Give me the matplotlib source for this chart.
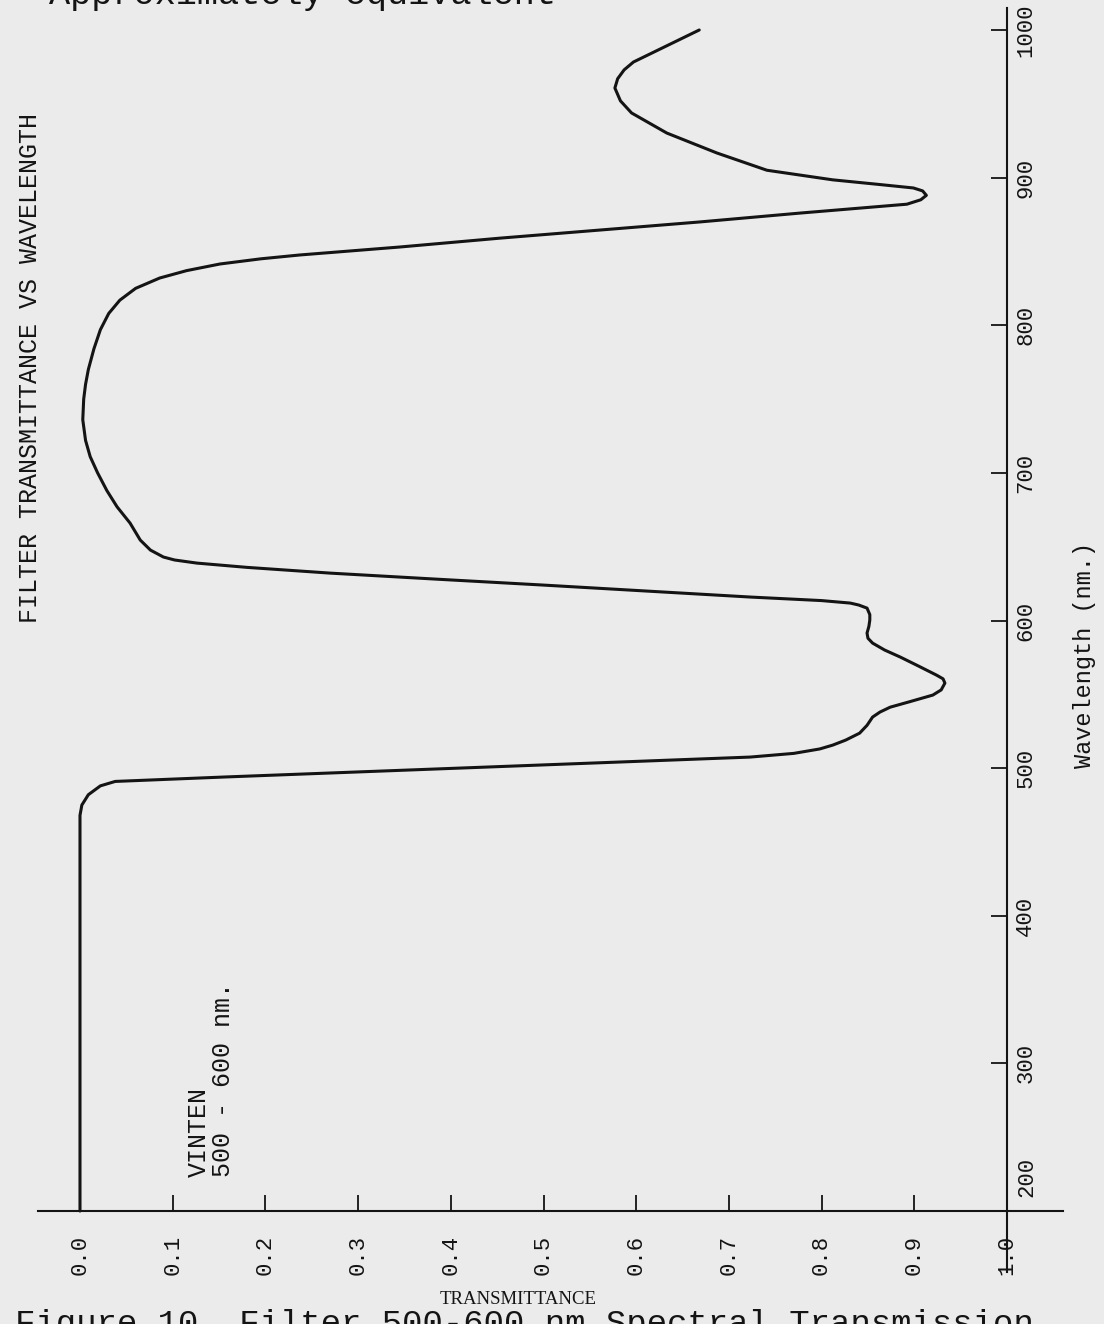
import matplotlib.pyplot as plt

# filter trace: wavelength (nm) against transmittance
wavelength = [200, 468, 475, 482, 488, 491, 494, 497, 500, 503, 505, 507.5, 510, 513, 515.6,
              519, 523.7, 529, 534.6, 538, 541.3, 545, 549.5, 553, 557.6, 560.5, 563, 569,
              575.2, 580, 584.7, 588, 591.5, 596, 600.3, 604, 608.4, 610.5, 611.8, 613.5,
              615.9, 620, 624, 628, 632.1, 636, 638.9, 641, 643, 647.7, 654.5, 666, 677, 688,
              700, 711, 722, 736, 750, 760, 770, 784, 797, 808, 817, 825, 832, 837, 841.5,
              845, 847.6, 853, 859, 864.5, 870, 876, 882, 885, 888, 891, 893, 895.5, 898.5,
              905, 916.7, 930.2, 943.8, 952, 960.7, 967, 973, 978.3, 989, 1000]
transmittance = [0.0, 0.0, 0.002, 0.009, 0.022, 0.038, 0.156, 0.282, 0.408, 0.534, 0.618,
                 0.723, 0.77, 0.798, 0.812, 0.826, 0.841, 0.849, 0.855, 0.863, 0.874, 0.895,
                 0.92, 0.929, 0.933, 0.931, 0.924, 0.905, 0.885, 0.868, 0.855, 0.85, 0.849,
                 0.851, 0.852, 0.852, 0.849, 0.84, 0.831, 0.8, 0.723, 0.61, 0.5, 0.385, 0.27,
                 0.18, 0.126, 0.102, 0.09, 0.076, 0.065, 0.054, 0.04, 0.029, 0.019, 0.011,
                 0.006, 0.003, 0.004, 0.006, 0.009, 0.015, 0.022, 0.031, 0.043, 0.06, 0.086,
                 0.115, 0.151, 0.195, 0.237, 0.345, 0.453, 0.561, 0.669, 0.777, 0.892, 0.907,
                 0.913, 0.909, 0.899, 0.86, 0.812, 0.741, 0.687, 0.633, 0.595, 0.583, 0.577,
                 0.58, 0.587, 0.597, 0.632, 0.668]

t_ticks = [0.0, 0.1, 0.2, 0.3, 0.4, 0.5, 0.6, 0.7, 0.8, 0.9, 1.0]
t_labels = ["0.0", "0.1", "0.2", "0.3", "0.4", "0.5", "0.6", "0.7", "0.8", "0.9", "1.0"]
wl_ticks = [200, 300, 400, 500, 600, 700, 800, 900, 1000]
wl_labels = ["", "300", "400", "500", "600", "700", "800", "900", "1000"]

paper = "#ebebeb"
ink = "#141414"
mono = "Liberation Mono"

fig = plt.figure(figsize=(11.04, 13.24), dpi=100, facecolor=paper)
W, H = 1104, 1324
ax = fig.add_axes([38 / W, 1 - 1272 / H, (1063 - 38) / W, (1272 - 8) / H])
ax.set_facecolor(paper)

ax.plot(transmittance, wavelength, color=ink, lw=2.2, solid_joinstyle="round",
        solid_capstyle="round")

ax.set_xlim(-0.0453, 1.0604)
ax.set_ylim(158.7, 1014.9)

for s in ["top", "left"]:
    ax.spines[s].set_visible(False)
ax.spines["bottom"].set_position(("data", 200))
ax.spines["right"].set_position(("data", 1.0))
for s in ["bottom", "right"]:
    ax.spines[s].set_color(ink)
    ax.spines[s].set_linewidth(1.5)

ax.yaxis.tick_right()
ax.set_xticks(t_ticks)
ax.set_xticklabels(t_labels, rotation=90, family=mono, fontsize=16, color=ink)
ax.set_yticks(wl_ticks)
ax.set_yticklabels(wl_labels, rotation=90, family=mono, fontsize=16, color=ink,
                   va="center")
ax.tick_params(axis="x", direction="in", length=11.5, width=1.3, pad=17, colors=ink)
ax.tick_params(axis="y", direction="in", length=11.5, width=1.3, pad=6, colors=ink)
# the 200 label sits above the transmittance axis
ax.annotate("200", xy=(1.0, wl_ticks[0]), xytext=(9, 34), textcoords="offset pixels",
            rotation=90, ha="left", va="center", family=mono, fontsize=16, color=ink)

# filter name written alongside the baseline
ax.text(0.128, 223, "VINTEN", rotation=90, ha="center", va="bottom",
        family=mono, fontsize=18, color=ink)
ax.text(0.154, 223, "500 - 600 nm.", rotation=90, ha="center", va="bottom",
        family=mono, fontsize=18, color=ink)

fig.text(30 / W, 1 - 368 / H, "FILTER TRANSMITTANCE VS WAVELENGTH", rotation=90,
         ha="center", va="center", family=mono, fontsize=18, color=ink)
fig.text(1085 / W, 1 - 655 / H, "Wavelength (nm.)", rotation=90, ha="center",
         va="center", family=mono, fontsize=17, color=ink)
fig.text(518 / W, 1 - 1300 / H, "TRANSMITTANCE", ha="center", va="center",
         family="Liberation Serif", fontsize=13.5, color=ink)

# caption lines cut by the page edges
fig.text(49 / W, 1 - 4 / H, "Approximately equivalent", ha="left", va="baseline",
         family=mono, fontsize=25.4, color=ink)
fig.text(15 / W, 1 - 1309 / H, "Figure 10. Filter 500-600 nm Spectral Transmission",
         ha="left", va="top", family=mono, fontsize=24.5, color=ink)

fig.savefig("out.png", dpi=100, facecolor=paper)
